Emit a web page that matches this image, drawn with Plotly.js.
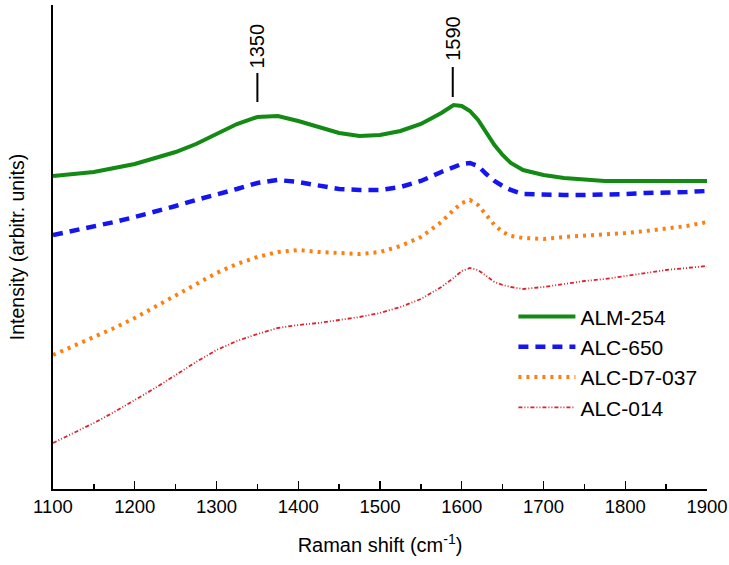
<!DOCTYPE html>
<html><head><meta charset="utf-8">
<script src="https://cdn.plot.ly/plotly-3.0.1.min.js"></script>
<style>html,body{margin:0;padding:0;background:#fff}#chart{width:729px;height:565px}</style>
</head><body><div id="chart"></div>
<script>
const shift = [1100,1125,1150,1175,1200,1225,1250,1275,1300,1325,1350,1375,1400,1425,1450,1475,1500,1525,1550,1575,1590,1600,1610,1620,1630,1640,1650,1660,1675,1700,1725,1750,1775,1800,1825,1850,1875,1900];
const alm254 = [313,315,317,321,325,331,337,345,355,365,372,373,368,362,356,353,354,358,365,376,384,383,378,369,357,344,334,326,319,314,311,309,308,308,308,308,308,308];
const alc650 = [254,258,263,267,272,277,283,289,294,300,306,309,307,303,300,299,299,302,308,317,322,325,326,323,315,308,303,299,295,294,294,294,294,295,296,296,297,298];
const alcD7 = [134,143,151,161,171,182,193,205,216,225,232,237,239,237,236,235,237,243,252,267,279,286,289,284,274,264,257,253,251,250,252,253,255,256,258,260,263,267];
const alc014 = [46,56,66,77,89,101,114,127,139,148,155,161,164,166,169,172,176,182,190,202,211,218,221,219,213,207,204,202,200,202,205,208,210,213,216,219,221,223];
const seriesNames = ["ALM-254","ALC-650","ALC-D7-037","ALC-014"];
const peakLabels = ["1350","1590"];
const peakPos = [1350,1589];
const xTicks = [1100,1200,1300,1400,1500,1600,1700,1800,1900];

const font = "Arial, 'Liberation Sans', sans-serif";
const traces = [
  {x: shift, y: alm254, name: seriesNames[0], mode: 'lines', line: {color: '#138a13', width: 4}},
  {x: shift, y: alc650, name: seriesNames[1], mode: 'lines', line: {color: '#1515f0', width: 4.5, dash: '10px,7px'}},
  {x: shift, y: alcD7, name: seriesNames[2], mode: 'lines', line: {color: '#ff7f0e', width: 4, dash: '3px,5px'}},
  {x: shift, y: alc014, name: seriesNames[3], mode: 'lines', line: {color: '#e0202a', width: 1.8, dash: '4px,2px,1px,2px,1px,2px'}}
];
const annotations = peakLabels.map((t,i)=>({
  x: peakPos[i], y: i===0 ? 443 : 451, xref: 'x', yref: 'y', text: t, showarrow: false,
  textangle: -90, font: {family: font, size: 20, color: '#000'}
}));
const shapes = peakPos.map((p,i)=>({
  type: 'line', xref: 'x', yref: 'y', x0: p, x1: p,
  y0: i===0 ? 387 : 392, y1: i===0 ? 416 : 422, line: {color: '#000', width: 2}
}));
const layout = {
  width: 729, height: 565,
  margin: {l: 53, r: 22, t: 5, b: 76},
  paper_bgcolor: '#fff', plot_bgcolor: '#fff',
  font: {family: font, color: '#000'},
  showlegend: true,
  legend: {x: 0.704, y: 0.398, xanchor: 'left', yanchor: 'top', bgcolor: 'rgba(0,0,0,0)',
    font: {family: font, size: 21, color: '#000'}, itemwidth: 57, tracegroupgap: 0},
  xaxis: {
    range: [1100, 1900], tickvals: xTicks, ticktext: xTicks.map(String),
    ticks: 'inside', ticklen: 8, tickwidth: 1.3, tickcolor: '#000',
    minor: {dtick: 50, tick0: 1100, ticks: 'inside', ticklen: 5, tickwidth: 1.3, tickcolor: '#000'},
    showline: true, linecolor: '#000', linewidth: 1.8, showgrid: false, zeroline: false,
    tickfont: {family: font, size: 18.5, color: '#000'},
    title: {text: 'Raman shift (cm<sup>-1</sup>)', font: {family: font, size: 20, color: '#000'}, standoff: 22}
  },
  yaxis: {
    range: [0, 484], showticklabels: false, ticks: '', showline: true, linecolor: '#000', linewidth: 1.8,
    showgrid: false, zeroline: false,
    title: {text: 'Intensity (arbitr. units)', font: {family: font, size: 19.5, color: '#000'}, standoff: 21}
  },
  annotations: annotations, shapes: shapes
};
Plotly.newPlot('chart', traces, layout, {displayModeBar: false, staticPlot: true});
</script></body></html>
